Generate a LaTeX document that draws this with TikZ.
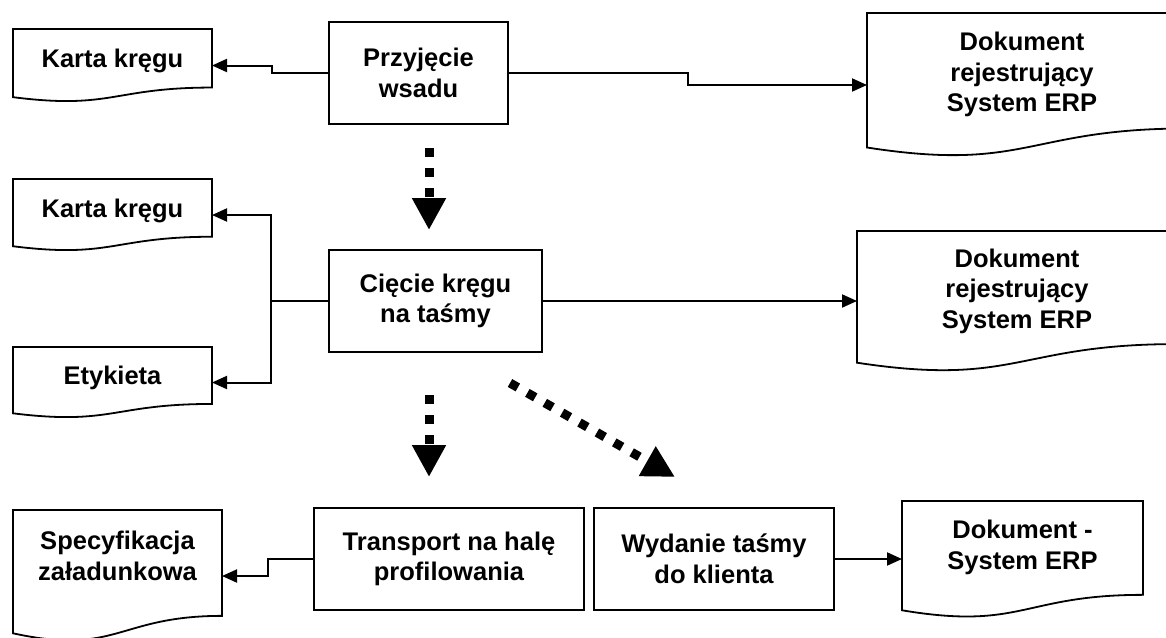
\documentclass[tikz,border=0pt]{standalone}
\usepackage{fontspec}
\setmainfont{Liberation Sans}
\usetikzlibrary{arrows.meta}
\newcommand{\lbfont}{\fontsize{25.5}{30.5}\selectfont\bfseries}
\newcommand{\docshape}[5]{% name, left, top, width, height (pixels)
  \node[inner sep=0pt, outer sep=0pt, minimum width=#4pt, minimum height=#5pt, anchor=north west] (#1) at (#2,#3) {};
  \draw[docframe] (#2,#3) -- (#2+#4,#3) -- (#2+#4,#3+0.802*#5)
    .. controls (#2+0.5*#4,#3+0.802*#5) and (#2+0.5*#4,#3+1.107*#5) .. (#2,#3+0.934*#5) -- cycle;
}
\tikzset{
  boxnode/.style={draw, line width=1.8pt, inner sep=0pt, outer sep=0pt, align=center, font=\lbfont},
  docframe/.style={draw, line width=1.8pt, fill=white},
  doctext/.style={align=center, font=\lbfont, inner sep=0pt},
  conn/.style={line width=2pt, -{Triangle[length=15pt,width=13pt]}},
  plainconn/.style={line width=2pt},
  bigdot/.style={line width=9pt, dash pattern=on 9pt off 11pt, -{Triangle[length=32pt,width=32pt]}},
}
\begin{document}
\begin{tikzpicture}[x=1pt,y=-1pt]
\useasboundingbox (0,0) rectangle (1166,637);
\clip (0,0) rectangle (1166,637);
\fill[white] (0,0) rectangle (1166,637);

% documents
\docshape{kA}{13}{29}{199}{73}
\docshape{kB}{13}{179}{199}{72}
\docshape{ety}{13}{347}{199}{71}
\docshape{spec}{13}{510}{209}{132}
\docshape{dA}{867}{13}{320}{144}
\docshape{dB}{857}{231}{320}{141}
\docshape{dC}{902}{501}{241}{117}

\node[doctext] (kAt) at (112.5,60.5) {Karta kręgu};
\node[doctext] (kBt) at (112.5,210.5) {Karta kręgu};
\node[doctext] (etyt) at (112.5,377.5) {Etykieta};
\node[doctext] (spect) at (117.5,556) {Specyfikacja\\załadunkowa};
\node[doctext] (dAt) at (1022,74.5) {Dokument\\rejestrujący\\System ERP};
\node[doctext] (dBt) at (1017,291) {Dokument\\rejestrujący\\System ERP};
\node[doctext] (dCt) at (1022.5,547.5) {Dokument -\\System ERP};

% process boxes
\node[boxnode, minimum width=179pt, minimum height=102pt] (prz) at (418.5,73) {Przyjęcie\\wsadu};
\node[boxnode, minimum width=213pt, minimum height=102pt] (cie) at (435.5,301) {Cięcie kręgu\\na taśmy};
\node[boxnode, minimum width=270pt, minimum height=102pt] (tra) at (449,559) {Transport na halę\\profilowania};
\node[boxnode, minimum width=240pt, minimum height=102pt] (wyd) at (714,559) {Wydanie taśmy\\do klienta};

% connectors
\draw[conn] (prz.west) -- ++(-57,0) |- (kA.east);
\draw[conn] (prz.east) -- ++(180,0) |- (dA.west);
\draw[plainconn] (cie.west) -- ++(-58,0) coordinate (jn);
\draw[conn] (jn) |- (kB.east);
\draw[conn] (jn) |- (ety.east);
\draw[conn] (cie.east) -- (cie.east -| dB.west);
\draw[conn] (tra.west) -- ++(-46,0) |- (spec.east);
\draw[conn] (wyd.east) -- (wyd.east -| dC.west);

% flow arrows
\coordinate (f1a) at (429,148);
\coordinate (f1b) at (429,230);
\coordinate (f2a) at (429,395);
\coordinate (f2b) at (429,477);
\coordinate (f3a) at (510,383);
\coordinate (f3b) at (675,477);
\draw[bigdot] (f1a) -- (f1b);
\draw[bigdot] (f2a) -- (f2b);
\draw[bigdot] (f3a) -- (f3b);
\end{tikzpicture}
\end{document}
